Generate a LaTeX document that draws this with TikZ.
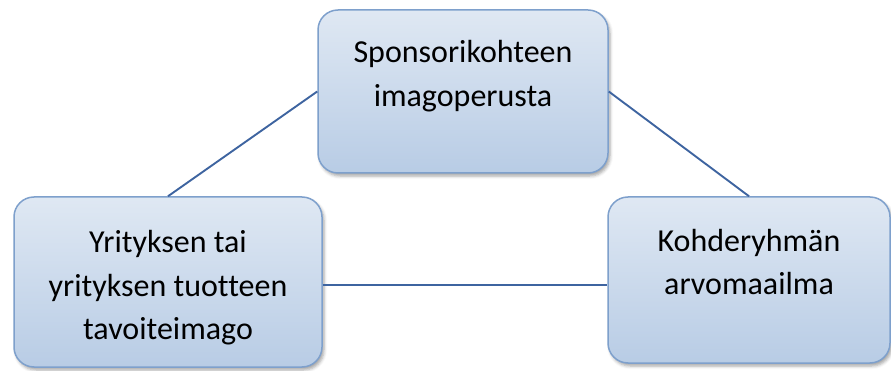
\documentclass[tikz,border=0pt]{standalone}
\usepackage{fontspec}
\setmainfont[Ligatures=NoCommon]{Carlito}
\usetikzlibrary{shadows.blur}

\definecolor{boxtop}{RGB}{223,232,243}
\definecolor{boxbottom}{RGB}{184,204,229}
\definecolor{boxborder}{RGB}{126,160,204}
\definecolor{linkblue}{RGB}{62,100,160}

\tikzset{
  conceptbox/.style={
    draw=boxborder, line width=1.5pt, rounded corners=20pt,
    top color=boxtop, bottom color=boxbottom,
    blur shadow={shadow xshift=2pt, shadow yshift=-3pt, shadow blur radius=3pt, shadow opacity=35},
    inner sep=0pt
  },
  boxtext/.style={align=center, font=\fontsize{32}{43.5}\selectfont, text=black},
  link/.style={draw=linkblue, line width=1.9pt}
}

\begin{document}
\begin{tikzpicture}[x=1pt,y=-1pt]
  \useasboundingbox (0,0) rectangle (891,371);

  % the three concept boxes
  \node[conceptbox, minimum width=290pt, minimum height=163pt] (top) at (463,91.5) {};
  \node[conceptbox, minimum width=308pt, minimum height=170pt] (left) at (168,282) {};
  \node[conceptbox, minimum width=282pt, minimum height=166pt] (right) at (749,280) {};

  % links between the boxes
  \draw[link] (top.west) -- (left.north);
  \draw[link] (top.east) -- (right.north);
  \draw[link] (left.east |- 0,285) -- (right.west |- 0,285);

  % box captions
  \node[boxtext] (topText) at (463,76) {Sponsorikohteen\\imagoperusta};
  \node[boxtext] (leftText) at (168,288) {Yrityksen tai\\yrityksen tuotteen\\tavoiteimago};
  \node[boxtext] (rightText) at (749,262) {Kohderyhmän\\arvomaailma};
\end{tikzpicture}
\end{document}
